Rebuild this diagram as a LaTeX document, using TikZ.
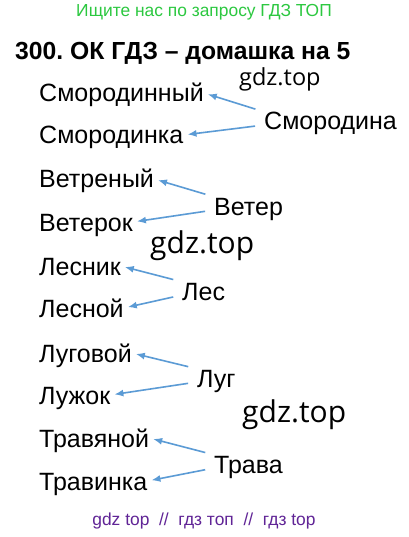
\documentclass[tikz,border=0pt]{standalone}
\usepackage{fontspec}
\setmainfont{Liberation Sans}
\newfontfamily\wmfont{Open Sans}
\usepackage{tikz}
\usetikzlibrary{arrows.meta, positioning}
\frenchspacing
\definecolor{hdrgreen}{RGB}{44,200,64}
\definecolor{ftrpurple}{RGB}{96,36,150}
\definecolor{arrblue}{RGB}{91,155,213}
\tikzstyle{word} = [anchor=base west, inner sep=0pt, text height=18pt, text depth=0pt, font=\fontsize{25}{30}\selectfont]
\tikzstyle{wmark} = [anchor=base west, inner sep=0pt, font=\wmfont\fontsize{30}{36}\selectfont]
\tikzstyle{line} = [draw, arrblue, line width=1.6pt, -{Latex[length=9pt,width=7pt]}, shorten <=9pt, shorten >=4pt]

\begin{document}
\begin{tikzpicture}[x=1pt,y=-1pt]
\useasboundingbox[fill=white] (0,0) rectangle (408,537);

\node[anchor=base, inner sep=0pt, hdrgreen, font=\fontsize{17.4}{20}\selectfont] (header) at (204,17) {Ищите нас по запросу ГДЗ ТОП};
\node[anchor=base west, inner sep=0pt, font=\bfseries\fontsize{24.7}{29}\selectfont] (title) at (15,60) {300. ОК ГДЗ – домашка на 5};
\node[wmark, font=\wmfont\fontsize{23.5}{28}\selectfont] (mark1) at (239,86) {gdz.top};

\node[word] (smorodinnyj) at (39,102) {Смородинный};
\node[word] (smorodinka) at (39,144) {Смородинка};
\node[word] (smorodina) at (264,130) {Смородина};

\node[word] (vetrenyj) at (39,188) {Ветреный};
\node[word] (veterok) at (39,231) {Ветерок};
\node[word] (veter) at (214,215) {Ветер};
\node[wmark] (mark2) at (150,253) {gdz.top};

\node[word] (lesnik) at (39,275) {Лесник};
\node[word] (lesnoj) at (39,317) {Лесной};
\node[word] (les) at (182,300) {Лес};

\node[word] (lugovoj) at (39,362) {Луговой};
\node[word] (luzhok) at (39,404) {Лужок};
\node[word] (lug) at (197,387) {Луг};
\node[wmark] (mark3) at (242,422) {gdz.top};

\node[word] (travyanoj) at (39,447) {Травяной};
\node[word] (travinka) at (39,490) {Травинка};
\node[word] (trava) at (214,473) {Трава};

\node[anchor=base, inner sep=0pt, ftrpurple, font=\fontsize{17.4}{20}\selectfont] (footer) at (204,525) {gdz top \ // \ гдз топ \ // \ гдз top};

\draw[line] (smorodina.north west) -- (smorodinnyj.east);
\draw[line] ([yshift=5pt]smorodina.base west) -- (smorodinka.east);
\draw[line] (veter.north west) -- (vetrenyj.east);
\draw[line] ([yshift=5pt]veter.base west) -- (veterok.east);
\draw[line] (les.north west) -- (lesnik.east);
\draw[line] ([yshift=5pt]les.base west) -- (lesnoj.east);
\draw[line] (lug.north west) -- (lugovoj.east);
\draw[line] ([yshift=5pt]lug.base west) -- (luzhok.east);
\draw[line] (trava.north west) -- (travyanoj.east);
\draw[line] ([yshift=5pt]trava.base west) -- (travinka.east);
\end{tikzpicture}
\end{document}
